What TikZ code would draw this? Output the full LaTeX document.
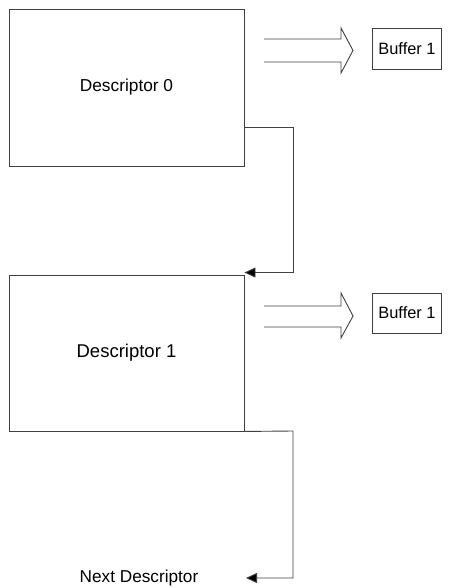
\documentclass[tikz,border=0pt]{standalone}
\usepackage{fontspec}
\setmainfont{Liberation Sans}
\usetikzlibrary{arrows.meta}
\begin{document}
\begin{tikzpicture}[x=1pt,y=-1pt,
  ln/.style={draw=black!75,line width=0.9pt},
  descbox/.style={ln,minimum width=235pt,inner sep=0pt},
  bufbox/.style={ln,minimum width=69pt,inner sep=0pt,font=\fontsize{16.4pt}{18pt}\selectfont},
  arr/.style={ln,-{Triangle[length=11pt,width=10pt,fill=black]}},
  blk/.style={ln}]
\useasboundingbox (0,0) rectangle (448,588);
\node[descbox,minimum height=157pt,font=\fontsize{17.3pt}{19pt}\selectfont] (d0) at (126.5,87.5) {Descriptor 0};
\node[descbox,minimum height=156pt,font=\fontsize{18.5pt}{20pt}\selectfont] (d1) at (126.5,353) {Descriptor 1};
\node[bufbox,minimum height=41pt] (b0) at (407,48.5) {Buffer 1};
\node[bufbox,minimum height=40pt] (b1) at (407,313) {Buffer 1};
\node[inner sep=0pt,font=\fontsize{17.2pt}{19pt}\selectfont] (nx) at (139,578) {Next Descriptor};
\coordinate (c0) at (293,127);
\coordinate (c1) at (293,431);
\coordinate (e1) at (246,578);
\draw[arr] (d0.east |- c0) -- (c0) |- ([yshift=2pt]d1.north east);
\draw[arr] (d1.south east) -- (c1) |- (e1);
% block arrows
\draw[blk] (264,39) -- (341,39) -- (341,28) -- (353,50.5) -- (341,73) -- (341,62) -- (264,62);
\draw[blk] (264,306) -- (341,306) -- (341,293) -- (353,316) -- (341,338) -- (341,327) -- (264,327);
\end{tikzpicture}
\end{document}
